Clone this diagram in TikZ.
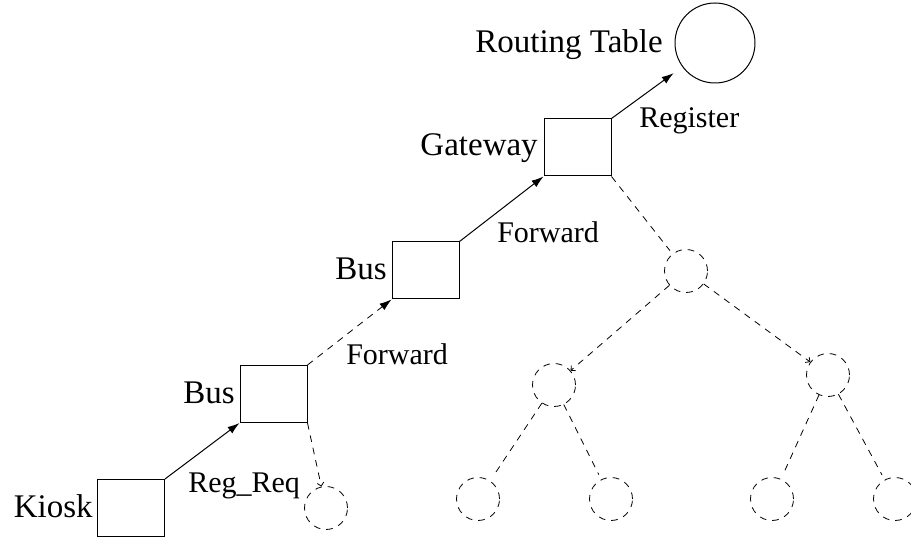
\documentclass[tikz,border=0pt]{standalone}
\usepackage{fontspec}
\setmainfont{Liberation Serif}
\usetikzlibrary{arrows.meta}
\begin{document}
\begin{tikzpicture}[x=0.75pt,y=-0.75pt,
  box/.style={draw,line width=0.75pt,minimum width=50.25pt,minimum height=42.75pt,inner sep=0pt},
  rt/.style={draw,line width=0.75pt,circle,minimum size=60pt,inner sep=0pt},
  dc/.style={draw,line width=0.6pt,circle,dash pattern=on 5pt off 4.5pt,minimum size=32.25pt,inner sep=0pt},
  big/.style={inner sep=0pt,font=\fontsize{24.75}{30}\selectfont},
  small/.style={inner sep=0pt,font=\fontsize{22.5}{27}\selectfont},
  sarrow/.style={line width=0.75pt,-{Latex[length=9pt,width=6pt]}},
  darrow/.style={line width=0.6pt,dash pattern=on 5pt off 4.5pt,-{Latex[length=9pt,width=6pt]}},
  dline/.style={line width=0.6pt,dash pattern=on 5pt off 4.5pt},
  dbarb/.style={dline,-{Straight Barb[length=2.5pt,width=5pt]}}]
\useasboundingbox (0,0) rectangle (911,538);
% boxes
\node[box] (kiosk) at (131,508) {};
\node[box] (bus1) at (273.5,394) {};
\node[box] (bus2) at (425.5,270.5) {};
\node[box] (gw) at (577.5,147.5) {};
\node[rt] (rt) at (715,43) {};
% dashed circles
\node[dc] (s) at (326,508) {};
\node[dc] (t0) at (686,271) {};
\node[dc] (l) at (554,385) {};
\node[dc] (r) at (828,375) {};
\node[dc] (b1) at (478,499) {};
\node[dc] (b2) at (611,499) {};
\node[dc] (b3) at (772,499) {};
\node[dc] (b4) at (895,499) {};
% labels
\node[big,anchor=base east] (lrt) at (663,53) {Routing Table};
\node[small,anchor=base west] (lreg) at (639,128) {Register};
\node[big,anchor=base east] (lgw) at (538,156) {Gateway};
\node[small,anchor=base west] (lfw2) at (497,243) {Forward};
\node[big,anchor=base east] (lbus2) at (387,280) {Bus};
\node[small,anchor=base west] (lfw1) at (346,365) {Forward};
\node[big,anchor=base east] (lbus1) at (235,403) {Bus};
\node[small,anchor=base west] (lrr) at (188,493) {Reg\_Req};
\node[big,anchor=base east] (lk) at (93,517) {Kiosk};
% connectors
\draw[sarrow] (kiosk.north east) -- (bus1.south west);
\draw[darrow] (bus1.north east) -- (bus2.south west);
\draw[sarrow] (bus2.north east) -- (gw.south west);
\draw[sarrow,shorten >=8pt] (gw.north east) -- (rt);
\draw[dbarb] (bus1.south east) -- (s);
\draw[dline,shorten >=3pt] (gw.south east) -- (t0);
\draw[dbarb] (t0) -- (l);
\draw[dbarb] (t0) -- (r);
\draw[dline,shorten >=4pt] (l) -- (b1);
\draw[dline,shorten >=4pt] (l) -- (b2);
\draw[dline,shorten >=4pt] (r) -- (b3);
\draw[dline,shorten >=4pt] (r) -- (b4);
\end{tikzpicture}
\end{document}
